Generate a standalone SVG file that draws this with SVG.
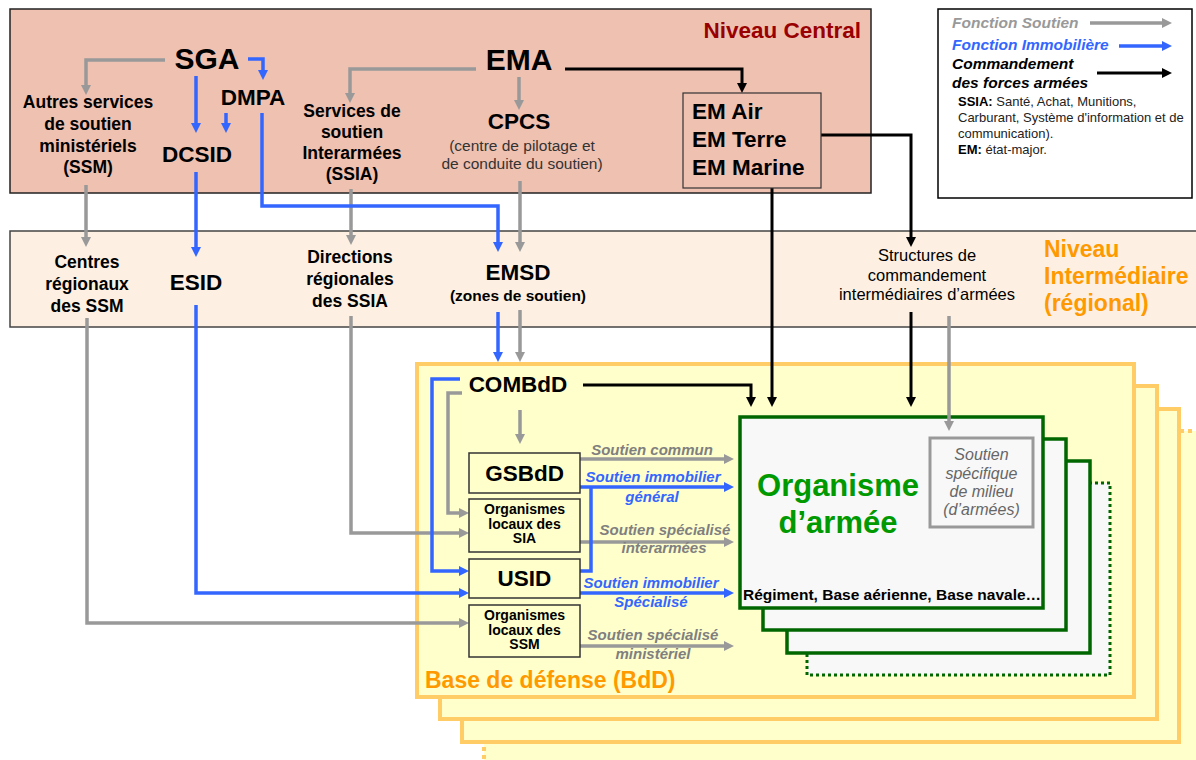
<svg xmlns="http://www.w3.org/2000/svg" width="1196" height="760" viewBox="0 0 1196 760">
<defs>
<style>
text{font-family:"Liberation Sans",Arial,sans-serif;fill:#000}
.c{text-anchor:middle}
.n30{font-size:30px;font-weight:bold}
.n22{font-size:22.5px;font-weight:bold}
.lab{font-size:17.5px;font-weight:bold}
.sub{font-size:15.5px;fill:#333}
.org{font-size:14px;font-weight:bold}
.lbl{font-size:15px;font-weight:bold;font-style:italic;text-anchor:middle}
.gt{fill:#7F7F7F}
.bt{fill:#3366FF}
.lg{font-size:15.5px;font-weight:bold;font-style:italic}
.sm{font-size:13px;fill:#222}
.sg{fill:none;stroke:#999;stroke-width:3.5;marker-end:url(#mg)}
.sb{fill:none;stroke:#3366FF;stroke-width:3.5;marker-end:url(#mb)}
.sbn{fill:none;stroke:#3366FF;stroke-width:3.5}
.sk{fill:none;stroke:#000;stroke-width:3;marker-end:url(#mk)}
.box{fill:#FFFFCC;stroke:#333;stroke-width:1.5}
.bdd{fill:#FFFFCC;stroke:#FFCC66;stroke-width:4}
.grn{fill:#F8F8F8;stroke:#006600;stroke-width:3.5}
</style>
<marker id="mg" viewBox="0 0 10 10" refX="4" refY="5" markerWidth="10" markerHeight="10" markerUnits="userSpaceOnUse" orient="auto"><path d="M0,0 L10,5 L0,10 z" fill="#999"/></marker>
<marker id="mb" viewBox="0 0 10 10" refX="4" refY="5" markerWidth="10" markerHeight="10" markerUnits="userSpaceOnUse" orient="auto"><path d="M0,0 L10,5 L0,10 z" fill="#3366FF"/></marker>
<marker id="mk" viewBox="0 0 10 10" refX="4" refY="5" markerWidth="10" markerHeight="10" markerUnits="userSpaceOnUse" orient="auto"><path d="M0,0 L10,5 L0,10 z" fill="#000"/></marker>
</defs>
<rect x="0" y="0" width="1196" height="760" fill="#FFFFFF"/>

<g id="niveau-central-panel">
<rect x="10" y="9" width="861" height="184" fill="#EFC1B1" stroke="#222" stroke-width="1.5"/>
<text x="861" y="38" font-size="22.5" font-weight="bold" text-anchor="end" style="fill:#990000">Niveau Central</text>
</g>
<g id="niveau-intermediaire-panel">
<rect x="10" y="231" width="1192" height="96" fill="#FDF0E3" stroke="#444" stroke-width="1.5"/>
<text font-size="23" font-weight="bold" style="fill:#FF9900"><tspan x="1044" y="257">Niveau</tspan><tspan x="1044" y="284">Intermédiaire</tspan><tspan x="1044" y="311">(régional)</tspan></text>
</g>
<g id="base-de-defense-panel">
<rect x="484" y="431" width="740" height="360" class="bdd" stroke-dasharray="4,4"/>
<rect x="462" y="409" width="717" height="333" class="bdd"/>
<rect x="440" y="386" width="717" height="333" class="bdd"/>
<rect x="417" y="364" width="717" height="333" class="bdd"/>
<text x="425" y="688" font-size="23" font-weight="bold" style="fill:#FF9900">Base de défense (BdD)</text>
</g>

<g id="legend">
<rect x="938" y="9" width="254" height="189" fill="#FFFFFF" stroke="#000" stroke-width="1.5"/>
<text x="952" y="28" class="lg" style="fill:#999">Fonction Soutien</text>
<text x="952" y="50" class="lg bt">Fonction Immobilière</text>
<text class="lg"><tspan x="952" y="69">Commandement</tspan><tspan x="952" y="88">des forces armées</tspan></text>
<path class="sg" d="M1090,23 H1166"/>
<path class="sb" d="M1119,46 H1166"/>
<path class="sk" d="M1097,73 H1166"/>
<text class="sm"><tspan x="958" y="106"><tspan font-weight="bold" style="fill:#000">SSIA:</tspan> Santé, Achat, Munitions,</tspan><tspan x="958" y="122">Carburant, Système d'information et de</tspan><tspan x="958" y="138">communication).</tspan><tspan x="958" y="154"><tspan font-weight="bold" style="fill:#000">EM:</tspan> état-major.</tspan></text>
</g>

<g id="organisme-stack">
<rect x="807" y="483" width="303" height="192" fill="#F8F8F8" stroke="#006600" stroke-width="3" stroke-dasharray="3,3"/>
<rect x="787" y="461" width="303" height="192" class="grn"/>
<rect x="763" y="439" width="303" height="191" class="grn"/>
<rect x="740" y="417" width="303" height="191" class="grn"/>
</g>

<g id="connectors">
<path class="sg" d="M165,60 H86 V89"/>
<path class="sg" d="M476,69 H350 V97"/>
<path class="sg" d="M519,77 V104"/>
<path class="sg" d="M86,185 V241"/>
<path class="sg" d="M351,189 V239"/>
<path class="sg" d="M520,181 V246"/>
<path class="sg" d="M520,310 V356"/>
<path class="sg" d="M87,318 V623 H463"/>
<path class="sg" d="M351,316 V533 H463"/>
<path class="sg" d="M462,393 H448 V513 H463"/>
<path class="sg" d="M520,410 V438"/>
<path class="sg" d="M580,459 H728"/>
<path class="sg" d="M580,542 H728"/>
<path class="sg" d="M580,646 H728"/>
<path class="sg" d="M949,316 V425"/>
<path class="sb" d="M248,59 H263 V74"/>
<path class="sb" d="M196,76 V127"/>
<path class="sb" d="M226,113 V127"/>
<path class="sb" d="M196,172 V251"/>
<path class="sb" d="M262,113 V206 H498 V246"/>
<path class="sb" d="M498,312 V356"/>
<path class="sb" d="M460,379 H432 V571 H463"/>
<path class="sb" d="M196,305 V593 H463"/>
<path class="sb" d="M580,487 H728"/>
<path class="sbn" d="M580,571 H591 V487"/>
<path class="sb" d="M580,593 H728"/>
<path class="sk" d="M565,69 H742 V87"/>
<path class="sk" d="M821,135 H911 V241"/>
<path class="sk" d="M772,188 V401"/>
<path class="sk" d="M583,385 H751 V401"/>
<path class="sk" d="M911,312 V401"/>
</g>

<g id="sga"><text x="207" y="69" class="n30 c">SGA</text></g>
<g id="ema"><text x="519" y="70" class="n30 c">EMA</text></g>
<g id="dmpa"><text x="253" y="105" class="n22 c">DMPA</text></g>
<g id="dcsid"><text x="197" y="162" class="n22 c">DCSID</text></g>
<g id="ssm"><text class="lab c"><tspan x="88" y="108">Autres services</tspan><tspan x="88" y="130">de soutien</tspan><tspan x="88" y="152">ministériels</tspan><tspan x="88" y="173">(SSM)</tspan></text></g>
<g id="ssia"><text class="lab c"><tspan x="352" y="117">Services de</tspan><tspan x="352" y="138">soutien</tspan><tspan x="352" y="159">Interarmées</tspan><tspan x="352" y="180">(SSIA)</tspan></text></g>
<g id="cpcs"><text x="519" y="129" class="n22 c">CPCS</text>
<text class="sub c"><tspan x="522" y="151">(centre de pilotage et</tspan><tspan x="522" y="169">de conduite du soutien)</tspan></text></g>
<g id="em-armees">
<rect x="683" y="93" width="138" height="95" fill="#EFC1B1" stroke="#333" stroke-width="1.2"/>
<text class="n22"><tspan x="692" y="119">EM Air</tspan><tspan x="692" y="147">EM Terre</tspan><tspan x="692" y="175">EM Marine</tspan></text>
</g>

<g id="centres-regionaux"><text class="lab c"><tspan x="87" y="268">Centres</tspan><tspan x="87" y="290">régionaux</tspan><tspan x="87" y="312">des SSM</tspan></text></g>
<g id="esid"><text x="196" y="290" class="n22 c">ESID</text></g>
<g id="directions-regionales"><text class="lab c"><tspan x="350" y="263">Directions</tspan><tspan x="350" y="285">régionales</tspan><tspan x="350" y="307">des SSIA</tspan></text></g>
<g id="emsd"><text x="518" y="280" class="n22 c">EMSD</text>
<text x="518" y="301" class="c" font-size="15.5" font-weight="bold">(zones de soutien)</text></g>
<g id="structures"><text class="c" font-size="16.5"><tspan x="927" y="261">Structures de</tspan><tspan x="927" y="281">commandement</tspan><tspan x="927" y="300">intermédiaires d’armées</tspan></text></g>

<g id="combdd"><text x="518" y="392" class="n22 c">COMBdD</text></g>
<g id="gsbdd"><rect x="469" y="453" width="111" height="40" class="box"/><text x="524.5" y="481" class="n22 c">GSBdD</text></g>
<g id="org-sia"><rect x="469" y="499" width="111" height="53" class="box"/><text class="org c"><tspan x="524.5" y="514">Organismes</tspan><tspan x="524.5" y="528.5">locaux des</tspan><tspan x="524.5" y="543">SIA</tspan></text></g>
<g id="usid"><rect x="469" y="559" width="111" height="39" class="box"/><text x="524.5" y="586" class="n22 c">USID</text></g>
<g id="org-ssm"><rect x="469" y="605" width="111" height="52" class="box"/><text class="org c"><tspan x="524.5" y="620">Organismes</tspan><tspan x="524.5" y="634.5">locaux des</tspan><tspan x="524.5" y="649">SSM</tspan></text></g>

<g id="labels">
<text x="652" y="455" class="lbl gt">Soutien commun</text>
<text class="lbl bt"><tspan x="653" y="482">Soutien immobilier</tspan><tspan x="652" y="502">général</tspan></text>
<text class="lbl gt"><tspan x="665" y="535">Soutien spécialisé</tspan><tspan x="664" y="553">interarmées</tspan></text>
<text class="lbl bt"><tspan x="651" y="588">Soutien immobilier</tspan><tspan x="651" y="607">Spécialisé</tspan></text>
<text class="lbl gt"><tspan x="653" y="640">Soutien spécialisé</tspan><tspan x="653" y="659">ministériel</tspan></text>
</g>

<g id="organisme">
<text class="c" font-size="31" font-weight="bold" style="fill:#009900"><tspan x="838" y="496">Organisme</tspan><tspan x="838" y="533">d’armée</tspan></text>
<text x="743" y="600" font-size="15.5" font-weight="bold">Régiment, Base aérienne, Base navale…</text>
</g>
<g id="soutien-specifique">
<rect x="930" y="438" width="103" height="89" fill="#F8F8F8" stroke="#999" stroke-width="3"/>
<text class="c" font-size="16" font-style="italic" style="fill:#666"><tspan x="981.5" y="460">Soutien</tspan><tspan x="981.5" y="479">spécifique</tspan><tspan x="981.5" y="497">de milieu</tspan><tspan x="981.5" y="515">(d’armées)</tspan></text>
</g>
</svg>
